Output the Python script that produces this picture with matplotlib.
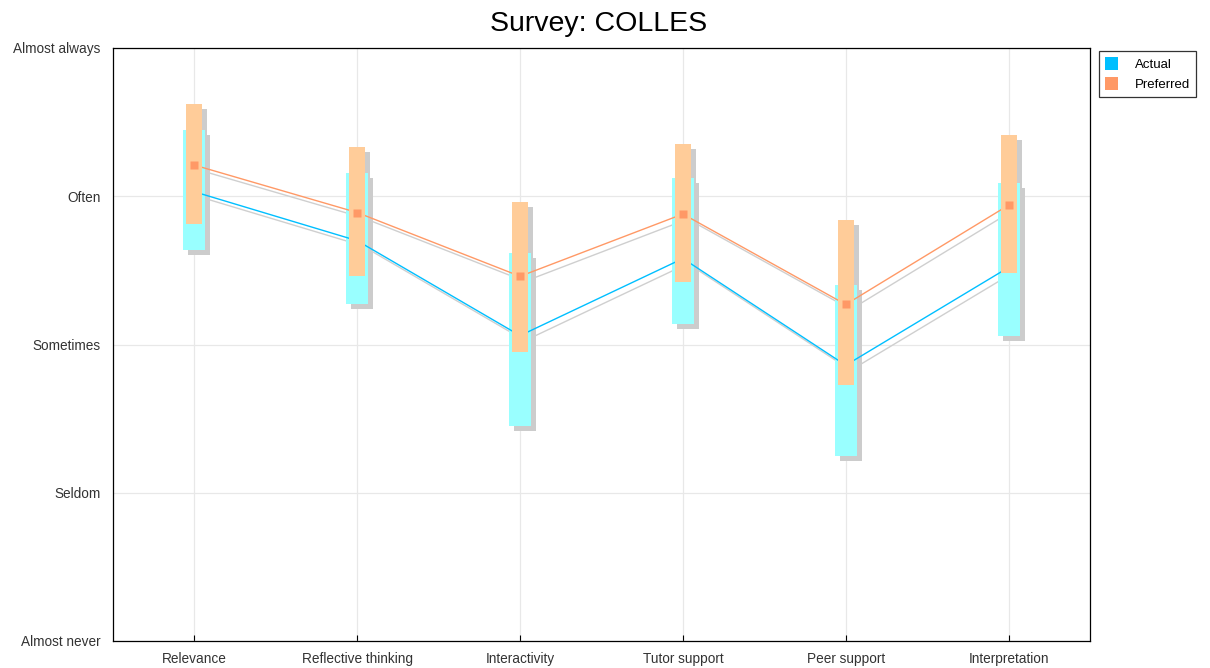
import matplotlib
matplotlib.use("Agg")
import matplotlib.pyplot as plt
import matplotlib.transforms as mtransforms
from matplotlib.patches import Patch
import numpy as np

categories = ["Relevance", "Reflective thinking", "Interactivity",
              "Tutor support", "Peer support", "Interpretation"]
level_labels = ["Almost never", "Seldom", "Sometimes", "Often", "Almost always"]
level_values = [1, 2, 3, 4, 5]

actual_mean = [4.03, 3.70, 3.06, 3.58, 2.86, 3.52]
actual_low = [3.64, 3.27, 2.45, 3.14, 2.25, 3.06]
actual_high = [4.45, 4.16, 3.62, 4.12, 3.40, 4.09]

preferred_mean = [4.21, 3.89, 3.46, 3.88, 3.27, 3.94]
preferred_low = [3.81, 3.46, 2.95, 3.42, 2.73, 3.48]
preferred_high = [4.62, 4.33, 3.96, 4.35, 3.84, 4.41]

plt.rcParams['font.family'] = ['Liberation Sans', 'DejaVu Sans']

fig = plt.figure(figsize=(12.1, 6.68), dpi=100)
ax = fig.add_axes([113/1210, 1-641/668, (1090-113)/1210, (641-48)/668])

x = np.arange(len(categories)) + 0.5
a_lo = np.array(actual_low); a_hi = np.array(actual_high)
p_lo = np.array(preferred_low); p_hi = np.array(preferred_high)

shadow = mtransforms.offset_copy(ax.transData, fig=fig, x=5, y=-5, units='dots')
shadow_c = '#CCCCCC'
w_a = 0.135
w_p = 0.098

# line shadows
ax.plot(x, actual_mean, color='#CFCFCF', lw=1.0, transform=shadow, zorder=1)
ax.plot(x, preferred_mean, color='#CFCFCF', lw=1.0, transform=shadow, zorder=1)
# bar shadows
ax.bar(x, a_hi - a_lo, bottom=a_lo, width=w_a, color=shadow_c, transform=shadow, zorder=2)
ax.bar(x, p_hi - p_lo, bottom=p_lo, width=w_p, color=shadow_c, transform=shadow, zorder=2)
# actual bars
ax.bar(x, a_hi - a_lo, bottom=a_lo, width=w_a, color='#99FFFF', zorder=3)
# lines
ax.plot(x, actual_mean, color='#00BFFF', lw=1.0, zorder=4)
ax.plot(x, preferred_mean, color='#FF9966', lw=1.0, zorder=4)
# preferred bars
ax.bar(x, p_hi - p_lo, bottom=p_lo, width=w_p, color='#FFCC99', zorder=5)
# markers
ax.plot(x, preferred_mean, ls='none', marker='s', ms=5.2, color='#FF9966', mec='none', zorder=6)

ax.set_xlim(0, len(categories))
ax.set_ylim(1, 5)
ax.set_xticks(x)
ax.set_xticklabels(categories, fontsize=9.8, color='#333333')
ax.set_yticks(level_values)
ax.set_yticklabels(level_labels, fontsize=9.8, color='#333333')
ax.tick_params(axis='x', direction='in', length=4, width=0.8, pad=8)
ax.tick_params(axis='y', length=0, pad=9)
ax.grid(True, color='#E8E8E8', lw=0.9, zorder=0)
ax.set_axisbelow(True)
for s in ax.spines.values():
    s.set_linewidth(0.9)
    s.set_color('black')

fig.text(599/1210, 1-24/668, "Survey: COLLES", fontsize=20.5, ha='center', va='center', color='black')

handles = [Patch(facecolor='#00BFFF', edgecolor='none', label='Actual'),
           Patch(facecolor='#FF9966', edgecolor='none', label='Preferred')]
leg = fig.legend(handles=handles, loc='upper left', bbox_to_anchor=(1099/1210, 1-51/668),
                 fontsize=9.5, frameon=True, fancybox=False, edgecolor='black',
                 handlelength=1.0, handleheight=1.15, handletextpad=1.3,
                 borderpad=0.45, labelspacing=0.45, borderaxespad=0)
leg.get_frame().set_linewidth(0.9)

fig.savefig("out.png", dpi=100)
